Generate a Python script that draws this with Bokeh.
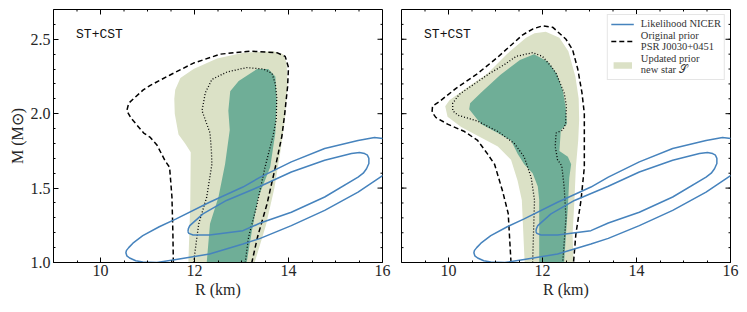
import math
from bokeh.plotting import figure
from bokeh.layouts import row
from bokeh.models import Legend, LegendItem, Label, FixedTicker, Range1d, PrintfTickFormatter
from bokeh.embed import file_html
from bokeh.resources import INLINE

# ---------------- data ----------------
x_lim = (9, 16)
y_lim = (1.0, 2.7)
x_ticks = [10, 12, 14, 16]
x_minor = [9.5, 10.0, 10.5, 11.0, 11.5, 12.0, 12.5, 13.0, 13.5, 14.0, 14.5, 15.0, 15.5]
y_ticks = [1.0, 1.5, 2.0, 2.5]
y_minor = [1.1, 1.2, 1.3, 1.4, 1.5, 1.6, 1.7, 1.8, 1.9, 2.0, 2.1, 2.2, 2.3, 2.4, 2.5, 2.6]

# NICER likelihood contours (same in both panels)
nicer_outer_R = [16.01, 15.83, 15.48, 14.77, 14.06, 13.40, 13.03, 12.32, 11.61, 11.25, 10.90, 10.69, 10.60,
                 10.55, 10.54, 10.56, 10.62, 10.75, 10.90, 11.20, 11.61, 12.32, 13.03, 13.40, 14.06, 14.77,
                 15.48, 16.01]
nicer_outer_M = [1.834, 1.84, 1.82, 1.766, 1.676, 1.574, 1.507, 1.405, 1.293, 1.24, 1.18, 1.13, 1.10,
                 1.08, 1.065, 1.045, 1.03, 1.012, 1.003, 1.0, 1.02, 1.057, 1.124, 1.162, 1.248, 1.35,
                 1.473, 1.586]
nicer_inner_R = [11.86, 11.87, 11.90, 12.18, 12.68, 13.40, 14.06, 14.77, 15.34, 15.51, 15.62, 15.68, 15.71,
                 15.71, 15.66, 15.59, 15.48, 14.77, 14.06, 13.40, 13.03, 12.32, 11.97, 11.88, 11.86]
nicer_inner_M = [1.207, 1.228, 1.248, 1.327, 1.417, 1.512, 1.608, 1.687, 1.732, 1.739, 1.732, 1.721, 1.70,
                 1.665, 1.63, 1.60, 1.574, 1.44, 1.338, 1.265, 1.214, 1.185, 1.185, 1.196, 1.207]

# Left panel: original prior (dashed, dotted), updated prior (light, dark fills)
a_dash_R = [11.55, 11.54, 11.52, 11.47, 11.38, 11.20, 11.06, 10.92, 10.65, 10.56, 10.60, 10.70, 10.91, 11.06,
            11.48, 11.98, 12.55, 13.18, 13.75, 13.93, 14.00, 13.98, 13.92, 13.86, 13.72, 13.54, 13.34, 13.22]
a_dash_M = [1.00, 1.20, 1.44, 1.64, 1.68, 1.79, 1.84, 1.87, 1.97, 2.02, 2.07, 2.10, 2.16, 2.19,
            2.26, 2.34, 2.40, 2.42, 2.41, 2.385, 2.31, 2.18, 2.00, 1.85, 1.64, 1.39, 1.17, 1.00]
a_dot_R = [11.98, 12.09, 12.26, 12.37, 12.36, 12.33, 12.16, 12.23, 12.37, 12.69, 13.11, 13.47, 13.65, 13.72,
           13.75, 13.74, 13.67, 13.50, 13.33, 13.15, 13.08]
a_dot_M = [1.00, 1.26, 1.44, 1.66, 1.75, 1.87, 2.02, 2.14, 2.23, 2.28, 2.31, 2.30, 2.27, 2.20,
           2.11, 1.96, 1.85, 1.64, 1.39, 1.17, 1.00]
a_light_R = [11.87, 11.91, 11.92, 11.80, 11.66, 11.58, 11.57, 11.59, 11.70, 11.98, 12.48, 13.04, 13.68, 13.89,
             13.96, 13.98, 13.92, 13.83, 13.70, 13.52, 13.28]
a_light_M = [1.00, 1.40, 1.74, 1.80, 1.86, 2.00, 2.10, 2.16, 2.24, 2.30, 2.37, 2.41, 2.42, 2.40,
             2.34, 2.20, 1.95, 1.75, 1.50, 1.25, 1.00]
a_dark_R = [12.26, 12.33, 12.51, 12.65, 12.75, 12.72, 12.76, 12.94, 13.33, 13.57, 13.72, 13.75, 13.72, 13.61,
            13.36, 13.22, 13.11]
a_dark_M = [1.00, 1.26, 1.44, 1.66, 1.89, 2.02, 2.15, 2.22, 2.30, 2.30, 2.25, 2.09, 1.87, 1.64,
            1.44, 1.21, 1.00]

# Right panel
b_dash_R = [11.33, 11.27, 11.15, 10.98, 10.83, 10.62, 10.34, 9.98, 9.73, 9.65, 9.66, 9.80, 10.16, 10.62,
            11.05, 11.33, 11.58, 11.80, 12.00, 12.22, 12.50, 12.64, 12.75, 12.84, 12.89, 12.89, 12.82, 12.71, 12.66]
b_dash_M = [1.00, 1.33, 1.48, 1.66, 1.73, 1.82, 1.88, 1.93, 1.975, 2.01, 2.05, 2.08, 2.17, 2.27,
            2.38, 2.46, 2.53, 2.57, 2.59, 2.58, 2.50, 2.43, 2.30, 2.14, 2.00, 1.64, 1.42, 1.19, 1.00]
b_dot_R = [11.79, 11.83, 11.76, 11.61, 11.40, 11.05, 10.62, 10.20, 10.09, 10.09, 10.23, 10.69, 10.87, 11.19,
           11.44, 11.79, 12.00, 12.18, 12.29, 12.46, 12.51, 12.49, 12.43, 12.29, 12.27, 12.32, 12.41, 12.46,
           12.50, 12.43]
b_dot_M = [1.00, 1.42, 1.57, 1.71, 1.80, 1.88, 1.95, 1.99, 2.02, 2.07, 2.13, 2.23, 2.27, 2.33,
           2.385, 2.41, 2.385, 2.32, 2.27, 2.14, 2.05, 1.93, 1.89, 1.87, 1.78, 1.69, 1.65, 1.51,
           1.30, 1.00]
b_light_R = [11.62, 11.56, 11.47, 11.33, 11.05, 10.69, 10.27, 9.98, 9.93, 10.02, 10.41, 10.83, 11.24, 11.65,
             11.83, 12.07, 12.36, 12.55, 12.70, 12.77, 12.78, 12.76, 12.71, 12.68, 12.64, 12.66]
b_light_M = [1.00, 1.42, 1.55, 1.69, 1.78, 1.84, 1.91, 1.98, 2.05, 2.09, 2.18, 2.27, 2.40, 2.51,
             2.54, 2.55, 2.51, 2.42, 2.25, 2.10, 1.96, 1.82, 1.64, 1.42, 1.19, 1.00]
b_dark_R = [11.93, 11.93, 11.90, 11.79, 11.61, 11.47, 11.33, 11.05, 10.69, 10.44, 10.46, 10.69, 11.10, 11.52,
            11.82, 12.11, 12.30, 12.43, 12.49, 12.52, 12.39, 12.36, 12.54, 12.61, 12.57, 12.54, 12.50, 12.46]
b_dark_M = [1.00, 1.42, 1.51, 1.60, 1.66, 1.73, 1.82, 1.87, 1.93, 2.03, 2.07, 2.14, 2.26, 2.36,
            2.40, 2.35, 2.27, 2.16, 2.05, 1.93, 1.89, 1.75, 1.71, 1.66, 1.57, 1.37, 1.19, 1.00]

panel_label = "ST+CST"
x_title = "R (km)"
y_title = "M (M\u2299)"
legend_labels = ["Likelihood NICER", "Original prior\nPSR J0030+0451", "Updated prior\nnew star \U0001D4AE"]

# ---------------- style ----------------
SERIF = "Liberation Serif"
LIGHT = "#dbe1c6"
DARK = "#6fae97"
BLUE = "#4683bd"
TXT = "#262626"
FIG_H = 311


def style_axis(ax):
    ax.major_tick_in = 5
    ax.major_tick_out = 0
    ax.minor_tick_in = 2
    ax.minor_tick_out = 0
    ax.axis_line_color = "black"
    ax.major_tick_line_color = "black"
    ax.minor_tick_line_color = "black"
    ax.major_label_text_font = SERIF
    ax.major_label_text_font_size = "16px"
    ax.major_label_text_color = TXT
    ax.axis_label_text_font = SERIF
    ax.axis_label_text_font_size = "16px"
    ax.axis_label_text_font_style = "normal"
    ax.axis_label_text_color = TXT


def tick_rays(p, xs, ys, length, angle):
    p.ray(x=xs, y=ys, length=length, angle=angle, length_units="screen",
          line_color="black", line_width=1)


def make_panel(width, left, right, with_ylabel, light, dark, dot, dash, legend):
    p = figure(width=width, height=FIG_H, x_range=Range1d(*x_lim), y_range=Range1d(*y_lim),
               output_backend="svg", toolbar_location=None,
               min_border_left=left, min_border_right=right, min_border_top=9, min_border_bottom=49)
    p.grid.visible = False
    p.outline_line_color = "black"
    p.outline_line_alpha = 1.0
    p.background_fill_color = "white"
    p.border_fill_color = "white"

    p.xaxis.ticker = FixedTicker(ticks=x_ticks, minor_ticks=x_minor)
    style_axis(p.xaxis[0])
    p.xaxis.axis_label = x_title
    p.xaxis.major_label_standoff = 2
    p.xaxis.axis_label_standoff = 2

    if with_ylabel:
        p.yaxis.ticker = FixedTicker(ticks=y_ticks, minor_ticks=y_minor)
        p.yaxis.formatter = PrintfTickFormatter(format="%.1f")
        style_axis(p.yaxis[0])
        p.yaxis.axis_label = y_title
        p.yaxis.major_label_standoff = 3
        p.yaxis.axis_label_standoff = 2
    else:
        p.yaxis.visible = False
        tick_rays(p, [x_lim[0]] * len(y_ticks), y_ticks, 5, 0.0)
        tick_rays(p, [x_lim[0]] * len(y_minor), y_minor, 2, 0.0)

    # ticks on the top and right edges of the frame
    tick_rays(p, x_ticks, [y_lim[1]] * len(x_ticks), 5, -math.pi / 2)
    tick_rays(p, x_minor, [y_lim[1]] * len(x_minor), 2, -math.pi / 2)
    tick_rays(p, [x_lim[1]] * len(y_ticks), y_ticks, 5, math.pi)
    tick_rays(p, [x_lim[1]] * len(y_minor), y_minor, 2, math.pi)

    r_light = p.patch(light[0], light[1], fill_color=LIGHT, line_color=None)
    p.patch(dark[0], dark[1], fill_color=DARK, line_color=None)
    p.line(dot[0], dot[1], line_color="black", line_width=1.3, line_dash="1 2")
    r_dash = p.line(dash[0], dash[1], line_color="black", line_width=1.5, line_dash="5 3")
    r_blue = p.line(nicer_outer_R, nicer_outer_M, line_color=BLUE, line_width=1.5, line_join="round")
    p.line(nicer_inner_R, nicer_inner_M, line_color=BLUE, line_width=1.5, line_join="round")

    p.add_layout(Label(x=9.48, y=2.53, text=panel_label, text_font="Liberation Mono",
                       text_font_size="13px", text_baseline="middle", text_color="#111111"))

    if legend:
        lg = Legend(items=[LegendItem(label=legend_labels[0], renderers=[r_blue]),
                           LegendItem(label=legend_labels[1], renderers=[r_dash]),
                           LegendItem(label=legend_labels[2], renderers=[r_light])],
                    location="top_right", margin=5, padding=3, spacing=1,
                    glyph_width=23, glyph_height=8, label_standoff=7,
                    label_text_font=SERIF, label_text_font_size="10.5px",
                    label_text_line_height=1.0, label_text_color="#333333",
                    border_line_color="#cccccc", border_line_width=1,
                    background_fill_color="white", background_fill_alpha=0.85)
        p.add_layout(lg)
    return p


p1 = make_panel(391, 53, 9, True, (a_light_R, a_light_M), (a_dark_R, a_dark_M),
                (a_dot_R, a_dot_M), (a_dash_R, a_dash_M), False)
p2 = make_panel(356, 10, 17, False, (b_light_R, b_light_M), (b_dark_R, b_dark_M),
                (b_dot_R, b_dot_M), (b_dash_R, b_dash_M), True)

layout = row(p1, p2)
open("out.html", "w").write(file_html(layout, INLINE))
